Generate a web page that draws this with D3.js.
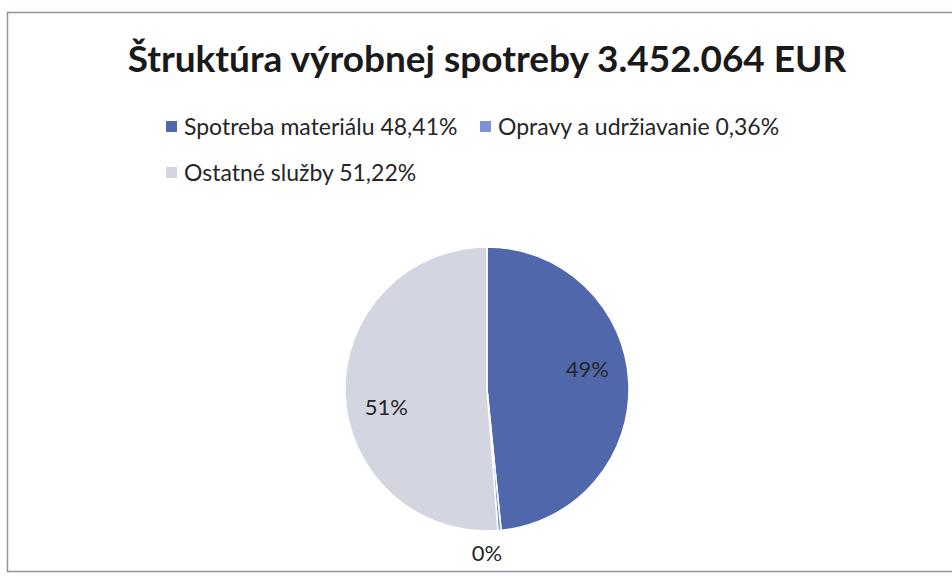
<!DOCTYPE html>
<html>
<head>
<meta charset="utf-8">
<script src="https://cdn.jsdelivr.net/npm/d3@7"></script>
<style>
  body { margin: 0; background: #fff; }
  svg { display: block; font-family: Lato, "Open Sans", sans-serif; }
</style>
</head>
<body>
<svg id="chart"></svg>
<script>
// data
var categories = ["Spotreba materiálu", "Opravy a udržiavanie", "Ostatné služby"];
var shares = [48.41, 0.36, 51.22];
var legendLabels = ["Spotreba materiálu 48,41%", "Opravy a udržiavanie 0,36%", "Ostatné služby 51,22%"];
var sliceLabels = ["49%", "0%", "51%"];
var colors = ["#5068ab", "#7f92d6", "#d3d5e1"];
var titleText = "Štruktúra výrobnej spotreby 3.452.064 EUR";

var width = 952, height = 578;
var cx = 487, cy = 389, radius = 142;

var svg = d3.select("#chart")
    .attr("width", width)
    .attr("height", height);

// frame
svg.append("rect")
    .attr("x", 7.5).attr("y", 12.5)
    .attr("width", 960).attr("height", 559)
    .attr("fill", "#fff")
    .attr("stroke", "#8a93a8")
    .attr("stroke-width", 1.5);

// title
svg.append("text")
    .attr("x", 487).attr("y", 72)
    .attr("text-anchor", "middle")
    .style("font-size", "37px")
    .style("font-weight", "bold")
    .style("fill", "#1a1a1a")
    .text(titleText);

// legend
var legendPos = [[166, 127], [480, 127], [166, 173]];
var legend = svg.selectAll(".legend")
    .data(legendLabels)
    .join("g")
      .attr("class", "legend")
      .attr("transform", function (d, i) { return "translate(" + legendPos[i][0] + "," + legendPos[i][1] + ")"; });

legend.append("rect")
    .attr("x", 0).attr("y", -6)
    .attr("width", 11).attr("height", 11)
    .attr("fill", function (d, i) { return colors[i]; });

legend.append("text")
    .attr("x", 18).attr("y", 0)
    .attr("dy", "0.35em")
    .style("font-size", "23px")
    .style("fill", "#262626")
    .text(function (d) { return d; });

// pie
var pie = d3.pie().sort(null).value(function (d) { return d; });
var arcs = pie(shares);
var arc = d3.arc().innerRadius(0).outerRadius(radius);

var g = svg.append("g").attr("transform", "translate(" + cx + "," + cy + ")");

g.selectAll("path")
    .data(arcs)
    .join("path")
      .attr("d", arc)
      .attr("fill", function (d, i) { return colors[i]; })
      .attr("stroke", "#fff")
      .attr("stroke-width", 1.5);

// data labels (excel-ish best fit: inside ones nudged a bit counter-clockwise, tiny slice below the pie)
var shift = -8 * Math.PI / 180;
function labelPos(d) {
    var a, r;
    if (d.data < 5) { a = Math.PI; r = radius + 22; }
    else { a = (d.startAngle + d.endAngle) / 2 + shift; r = radius * 0.72; }
    return [r * Math.sin(a), -r * Math.cos(a)];
}

g.selectAll(".lbl")
    .data(arcs)
    .join("text")
      .attr("class", "lbl")
      .attr("transform", function (d) {
          var p = labelPos(d);
          return "translate(" + p[0] + "," + p[1] + ")";
      })
      .attr("text-anchor", "middle")
      .attr("dy", "0.35em")
      .style("font-size", "22px")
      .style("fill", "#262626")
      .text(function (d, i) { return sliceLabels[i]; });
</script>
</body>
</html>
